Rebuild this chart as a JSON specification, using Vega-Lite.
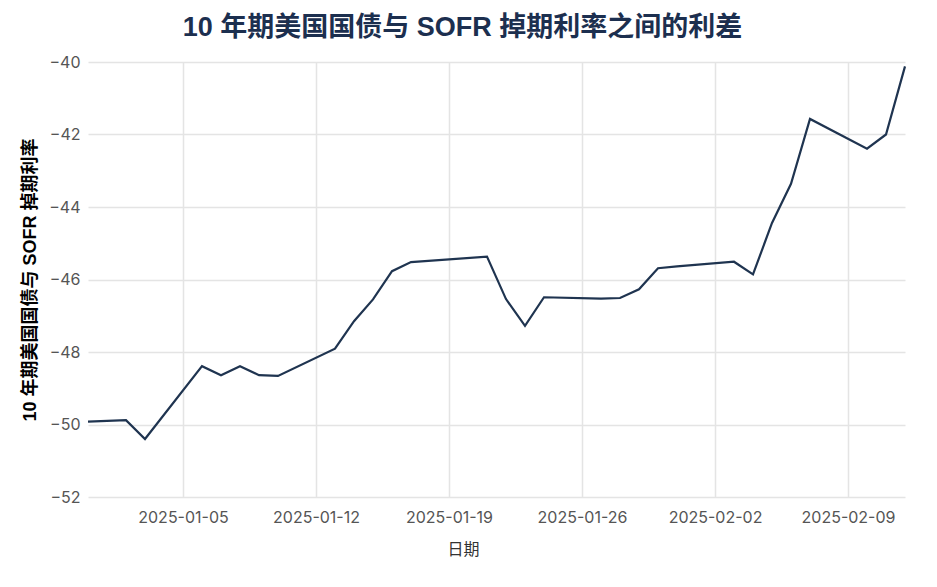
{
  "$schema": "https://vega.github.io/schema/vega-lite/v6.json",
  "width": 817,
  "height": 435,
  "autosize": {"type": "none"},
  "padding": {"left": 88, "top": 62, "right": 32, "bottom": 90},
  "background": "white",
  "config": {
    "font": "Inter",
    "view": {"stroke": null},
    "axis": {
      "domain": false,
      "ticks": false,
      "gridColor": "#e4e4e4",
      "gridWidth": 1.5,
      "labelColor": "#555555",
      "labelFontSize": 16
    }
  },
  "title": {
    "text": "10 年期美国国债与 SOFR 掉期利率之间的利差",
    "font": "Liberation Sans, Noto Sans CJK SC",
    "fontSize": 27,
    "fontWeight": "bold",
    "color": "#1c2f4f",
    "anchor": "middle",
    "dx": -34,
    "offset": 12
  },
  "data": {
    "values": [
      {"date": "2024-12-31", "spread": -49.92},
      {"date": "2025-01-02", "spread": -49.88},
      {"date": "2025-01-03", "spread": -50.4},
      {"date": "2025-01-06", "spread": -48.39},
      {"date": "2025-01-07", "spread": -48.64},
      {"date": "2025-01-08", "spread": -48.39},
      {"date": "2025-01-09", "spread": -48.64},
      {"date": "2025-01-10", "spread": -48.66},
      {"date": "2025-01-13", "spread": -47.91},
      {"date": "2025-01-14", "spread": -47.15},
      {"date": "2025-01-15", "spread": -46.55},
      {"date": "2025-01-16", "spread": -45.77},
      {"date": "2025-01-17", "spread": -45.52},
      {"date": "2025-01-21", "spread": -45.37},
      {"date": "2025-01-22", "spread": -46.54},
      {"date": "2025-01-23", "spread": -47.28},
      {"date": "2025-01-24", "spread": -46.49},
      {"date": "2025-01-27", "spread": -46.53},
      {"date": "2025-01-28", "spread": -46.51},
      {"date": "2025-01-29", "spread": -46.27},
      {"date": "2025-01-30", "spread": -45.69},
      {"date": "2025-01-31", "spread": -45.64},
      {"date": "2025-02-03", "spread": -45.51},
      {"date": "2025-02-04", "spread": -45.86},
      {"date": "2025-02-05", "spread": -44.44},
      {"date": "2025-02-06", "spread": -43.36},
      {"date": "2025-02-07", "spread": -41.57},
      {"date": "2025-02-10", "spread": -42.39},
      {"date": "2025-02-11", "spread": -42.0},
      {"date": "2025-02-12", "spread": -40.12}
    ]
  },
  "mark": {"type": "line", "color": "#1f3450", "strokeWidth": 2.2},
  "encoding": {
    "x": {
      "field": "date",
      "type": "temporal",
      "scale": {"type": "utc", "nice": false},
      "axis": {
        "title": "日期",
        "titleFont": "Noto Sans CJK SC",
        "titleFontSize": 16,
        "titleFontWeight": "normal",
        "titleColor": "#333333",
        "titlePadding": 16,
        "titleX": 375,
        "format": "%Y-%m-%d",
        "labelPadding": 12,
        "tickCount": {"interval": "week", "step": 1}
      }
    },
    "y": {
      "field": "spread",
      "type": "quantitative",
      "scale": {"domain": [-52, -40], "nice": false, "zero": false},
      "axis": {
        "title": "10 年期美国国债与 SOFR 掉期利率",
        "titleFont": "Liberation Sans, Noto Sans CJK SC",
        "titleFontSize": 18,
        "titleFontWeight": "bold",
        "titleColor": "#000000",
        "titlePadding": 9,
        "labelPadding": 8,
        "values": [-52, -50, -48, -46, -44, -42, -40]
      }
    }
  }
}
